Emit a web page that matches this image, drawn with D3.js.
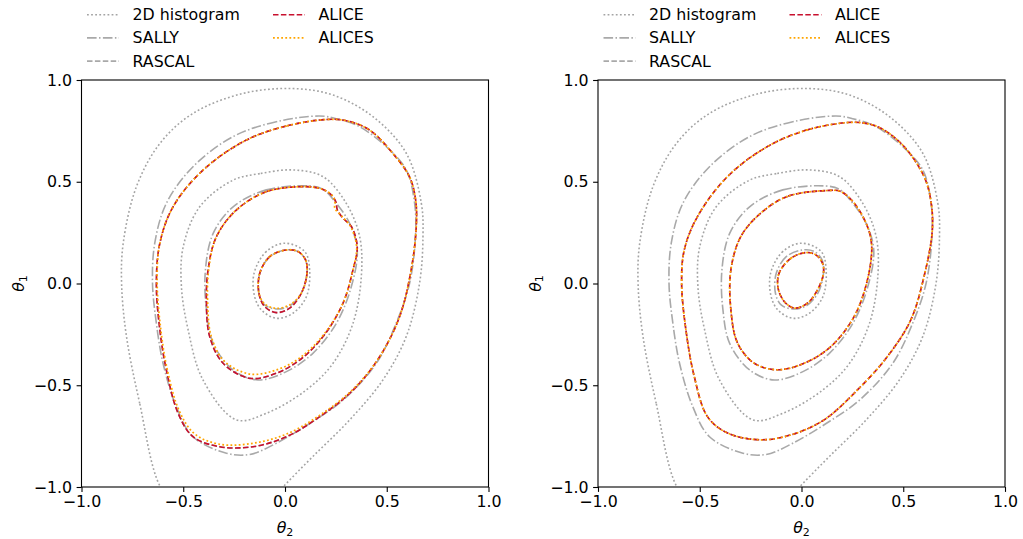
<!DOCTYPE html>
<html>
<head>
<meta charset="utf-8">
<script src="https://cdn.jsdelivr.net/npm/d3@7"></script>
<style>
  body { margin: 0; background: #fff; }
  svg { font-family: "DejaVu Sans", sans-serif; }
</style>
</head>
<body>
<svg id="chart" width="1023" height="539"></svg>
<script>
// contour points as [theta2, theta1]
const ticks = [-1.0, -0.5, 0.0, 0.5, 1.0];

// 2D histogram (same in both panels), outer one runs off the bottom
const histOuter = [[-0.612,-1.0],[-0.714,-0.589],[-0.779,-0.26],[-0.803,0],[-0.795,0.198],[-0.73,0.476],[-0.615,0.688],[-0.452,0.836],[-0.206,0.934],[0.039,0.958],[0.236,0.926],[0.432,0.82],[0.596,0.64],[0.67,0.394],[0.678,0.23],[0.661,0],[0.596,-0.26],[0.481,-0.474],[0.318,-0.67],[0.137,-0.85],[-0.01,-1.0],[-0.12,-1.12],[-0.5,-1.12]];
const histMid = [[0.039,0.558],[-0.124,0.54],[-0.255,0.508],[-0.419,0.377],[-0.5,0.181],[-0.509,-0.015],[-0.476,-0.228],[-0.403,-0.474],[-0.239,-0.67],[-0.092,-0.638],[0.105,-0.523],[0.236,-0.392],[0.334,-0.196],[0.375,0.034],[0.367,0.23],[0.301,0.394],[0.187,0.525]];
const histInner = [[0,0.198],[-0.092,0.157],[-0.152,0.05],[-0.149,-0.065],[-0.116,-0.13],[-0.043,-0.171],[0.039,-0.146],[0.105,-0.065],[0.121,0.067],[0.097,0.157]];

// SALLY
const sallyOuter = [[0.17,0.823],[-0.043,0.795],[-0.255,0.722],[-0.452,0.574],[-0.583,0.394],[-0.64,0.198],[-0.651,0],[-0.632,-0.196],[-0.599,-0.393],[-0.534,-0.606],[-0.452,-0.753],[-0.288,-0.834],[-0.173,-0.84],[-0.043,-0.785],[0.121,-0.688],[0.285,-0.573],[0.448,-0.393],[0.546,-0.196],[0.612,0],[0.641,0.23],[0.637,0.394],[0.596,0.558],[0.498,0.672],[0.367,0.77],[0.252,0.81]];
const sallyMid = [[0.121,0.479],[-0.092,0.46],[-0.255,0.377],[-0.353,0.246],[-0.391,0.067],[-0.386,-0.13],[-0.353,-0.294],[-0.255,-0.425],[-0.133,-0.474],[0.007,-0.433],[0.137,-0.343],[0.252,-0.196],[0.326,-0.015],[0.355,0.165],[0.318,0.295],[0.252,0.394],[0.187,0.463]];
const sallyInner = [[0.007,0.165],[-0.075,0.132],[-0.124,0.05],[-0.128,-0.048],[-0.1,-0.105],[-0.043,-0.125],[0.023,-0.11],[0.08,-0.048],[0.108,0.05],[0.101,0.116],[0.064,0.157]];

// ALICE, left panel
const aliceLeftOuter = [[0.203,0.806],[0.007,0.774],[-0.19,0.705],[-0.403,0.557],[-0.55,0.377],[-0.615,0.198],[-0.632,0],[-0.615,-0.228],[-0.583,-0.425],[-0.525,-0.638],[-0.452,-0.753],[-0.321,-0.802],[-0.157,-0.802],[0.007,-0.753],[0.17,-0.655],[0.334,-0.524],[0.465,-0.36],[0.563,-0.163],[0.62,0.067],[0.645,0.279],[0.642,0.41],[0.612,0.524],[0.53,0.639],[0.416,0.754],[0.301,0.8]];
const aliceLeftMid = [[0.105,0.476],[-0.092,0.451],[-0.239,0.361],[-0.337,0.23],[-0.378,0.067],[-0.386,-0.097],[-0.37,-0.261],[-0.304,-0.392],[-0.173,-0.466],[-0.043,-0.441],[0.072,-0.376],[0.187,-0.261],[0.285,-0.097],[0.334,0.067],[0.355,0.181],[0.326,0.28],[0.285,0.321],[0.257,0.362],[0.25,0.4],[0.23,0.433],[0.187,0.462]];
const aliceLeftInner = [[0.007,0.165],[-0.075,0.132],[-0.124,0.05],[-0.128,-0.048],[-0.1,-0.113],[-0.043,-0.143],[0.023,-0.121],[0.08,-0.048],[0.108,0.05],[0.101,0.116],[0.064,0.157]];

// ALICES, left panel
const alicesLeftOuter = [[0.203,0.806],[0.007,0.774],[-0.19,0.705],[-0.403,0.557],[-0.55,0.377],[-0.615,0.198],[-0.628,0],[-0.61,-0.228],[-0.578,-0.425],[-0.52,-0.625],[-0.445,-0.738],[-0.321,-0.79],[-0.157,-0.785],[0.007,-0.74],[0.17,-0.648],[0.334,-0.52],[0.465,-0.36],[0.563,-0.163],[0.62,0.067],[0.645,0.279],[0.642,0.41],[0.612,0.524],[0.53,0.639],[0.416,0.754],[0.301,0.8]];
const alicesLeftMid = [[0.105,0.476],[-0.092,0.451],[-0.239,0.361],[-0.337,0.23],[-0.375,0.067],[-0.38,-0.097],[-0.362,-0.261],[-0.3,-0.38],[-0.173,-0.445],[-0.043,-0.425],[0.072,-0.366],[0.187,-0.255],[0.285,-0.097],[0.334,0.067],[0.352,0.181],[0.322,0.28],[0.28,0.33],[0.245,0.37],[0.245,0.405],[0.23,0.435],[0.187,0.462]];
const alicesLeftInner = [[0.007,0.165],[-0.075,0.132],[-0.124,0.05],[-0.128,-0.048],[-0.1,-0.1],[-0.043,-0.122],[0.023,-0.105],[0.08,-0.048],[0.108,0.05],[0.101,0.116],[0.064,0.157]];

// ALICE, right panel (ALICES and RASCAL sit on top of it)
const aliceRightOuter = [[0.226,0.791],[0.029,0.755],[-0.167,0.673],[-0.363,0.526],[-0.511,0.329],[-0.576,0.165],[-0.589,0],[-0.568,-0.228],[-0.527,-0.457],[-0.462,-0.654],[-0.363,-0.735],[-0.2,-0.768],[-0.052,-0.744],[0.111,-0.67],[0.275,-0.523],[0.422,-0.359],[0.537,-0.179],[0.602,0.034],[0.643,0.264],[0.635,0.411],[0.602,0.526],[0.504,0.673],[0.39,0.763],[0.308,0.788]];
const aliceRightMid = [[0.128,0.457],[-0.069,0.428],[-0.2,0.346],[-0.298,0.231],[-0.347,0.067],[-0.347,-0.129],[-0.314,-0.293],[-0.232,-0.392],[-0.118,-0.424],[0.013,-0.392],[0.144,-0.31],[0.259,-0.162],[0.324,0.018],[0.345,0.182],[0.324,0.28],[0.259,0.395],[0.193,0.452]];
const aliceRightInner = [[0.021,0.152],[-0.052,0.124],[-0.11,0.051],[-0.115,-0.023],[-0.085,-0.088],[-0.036,-0.121],[0.029,-0.097],[0.079,-0.031],[0.108,0.051],[0.103,0.1],[0.07,0.141]];

const methods = ['2D histogram', 'SALLY', 'RASCAL', 'ALICE', 'ALICES'];
const styles = {
    '2D histogram': { color: '#a4a4a4', dash: '1.8,2.3', width: 1.6 },
    'SALLY': { color: '#a9a9a9', dash: '9.6,2.4,1.5,2.4', width: 1.6 },
    'RASCAL': { color: '#a9a9a9', dash: '5.5,2.4', width: 1.6 },
    'ALICE': { color: '#c8102e', dash: '5.5,2.4', width: 1.6 },
    'ALICES': { color: '#ffa500', dash: '1.8,2.3', width: 1.7 }
};

const panels = [
    {
        x0: 81.5, contours: {
            '2D histogram': [histOuter, histMid, histInner],
            'SALLY': [sallyOuter, sallyMid, sallyInner],
            'RASCAL': [aliceLeftOuter, aliceLeftMid, aliceLeftInner],
            'ALICE': [aliceLeftOuter, aliceLeftMid, aliceLeftInner],
            'ALICES': [alicesLeftOuter, alicesLeftMid, alicesLeftInner]
        }
    },
    {
        x0: 598, contours: {
            '2D histogram': [histOuter, histMid, histInner],
            'SALLY': [sallyOuter, sallyMid, sallyInner],
            'RASCAL': [aliceRightOuter, aliceRightMid, aliceRightInner],
            'ALICE': [aliceRightOuter, aliceRightMid, aliceRightInner],
            'ALICES': [aliceRightOuter, aliceRightMid, aliceRightInner]
        }
    }
];

const svg = d3.select('#chart');
const size = 407;
const topY = 80;
const fs = 15.8;

panels.forEach((p, i) => {
    const x = d3.scaleLinear().domain([-1, 1]).range([p.x0, p.x0 + size]);
    const y = d3.scaleLinear().domain([-1, 1]).range([topY + size, topY]);

    svg.append('clipPath').attr('id', 'clip' + i)
        .append('rect').attr('x', p.x0).attr('y', topY).attr('width', size).attr('height', size);

    const line = d3.line()
        .x(d => x(d[0]))
        .y(d => y(d[1]))
        .curve(d3.curveCatmullRomClosed);

    const g = svg.append('g').attr('clip-path', `url(#clip${i})`);
    methods.forEach(m => {
        g.append('g').selectAll('path')
            .data(p.contours[m])
            .enter().append('path')
            .attr('d', line)
            .attr('fill', 'none')
            .attr('stroke', styles[m].color)
            .attr('stroke-width', styles[m].width)
            .attr('stroke-dasharray', styles[m].dash);
    });

    // axes
    const xAxis = svg.append('g')
        .attr('transform', `translate(0,${topY + size})`)
        .call(d3.axisBottom(x).tickValues(ticks).tickFormat(d3.format('.1f')).tickSize(4.9).tickPadding(3.5));
    const yAxis = svg.append('g')
        .attr('transform', `translate(${p.x0},0)`)
        .call(d3.axisLeft(y).tickValues(ticks).tickFormat(d3.format('.1f')).tickSize(4.9).tickPadding(4.5));
    [xAxis, yAxis].forEach(a => {
        a.select('.domain').remove();
        a.selectAll('line').attr('stroke', '#000').attr('stroke-width', 1.1);
        a.selectAll('text').attr('font-size', fs).attr('font-family', '"DejaVu Sans", sans-serif').attr('fill', '#000');
    });

    svg.append('rect')
        .attr('x', p.x0).attr('y', topY).attr('width', size).attr('height', size)
        .attr('fill', 'none').attr('stroke', '#000').attr('stroke-width', 1.1);

    // axis labels
    const xl = svg.append('text')
        .attr('x', p.x0 + size / 2).attr('y', 533)
        .attr('text-anchor', 'middle').attr('font-size', fs);
    xl.append('tspan').attr('font-style', 'italic').text('θ');
    xl.append('tspan').attr('font-size', fs * 0.7).attr('dy', 2.5).text('2');

    const yl = svg.append('text')
        .attr('transform', `translate(${p.x0 - 57.5},${topY + size / 2}) rotate(-90)`)
        .attr('text-anchor', 'middle').attr('font-size', fs);
    yl.append('tspan').attr('font-style', 'italic').text('θ');
    yl.append('tspan').attr('font-size', fs * 0.7).attr('dy', 2.5).text('1');

    // legend
    const lg = svg.append('g').attr('transform', `translate(${p.x0 - 81.5},0)`);
    methods.forEach((m, k) => {
        const col = k < 3 ? 0 : 1;
        const row = k < 3 ? k : k - 3;
        const lx = col === 0 ? 87 : 273;
        const ly = 14.7 + row * 23.2;
        lg.append('line')
            .attr('x1', lx).attr('x2', lx + 32).attr('y1', ly).attr('y2', ly)
            .attr('stroke', styles[m].color).attr('stroke-width', styles[m].width)
            .attr('stroke-dasharray', styles[m].dash);
        lg.append('text')
            .attr('x', lx + 45.5).attr('y', ly + 5.5)
            .attr('font-size', fs).text(m);
    });
});
</script>
</body>
</html>
